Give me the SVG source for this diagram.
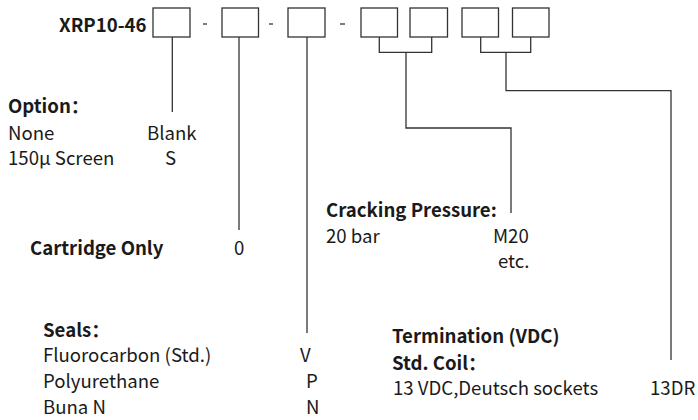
<svg xmlns="http://www.w3.org/2000/svg" width="698" height="420" viewBox="0 0 698 420">
<style>
text{font-family:"Noto Sans CJK SC","Noto Sans",sans-serif;font-size:18.6px;fill:#1a1a1a}
.b{font-weight:bold}
.box{fill:#fff;stroke:#333;stroke-width:1.3}
.ln{fill:none;stroke:#333;stroke-width:1.3}
</style>
<rect width="698" height="420" fill="#fff"/>
<g id="title"><text class="b" x="59" y="32">XRP10-46</text></g>
<g id="boxes">
<rect class="box" x="153" y="8" width="37" height="29"/>
<rect class="box" x="222" y="8" width="36.5" height="29"/>
<rect class="box" x="288" y="8" width="37" height="29"/>
<rect class="box" x="361" y="8" width="36.5" height="29"/>
<rect class="box" x="410" y="8" width="37.5" height="29"/>
<rect class="box" x="462" y="8" width="36.5" height="29"/>
<rect class="box" x="512.5" y="8" width="36.5" height="29"/>
<line class="ln" x1="203" y1="24" x2="207" y2="24"/>
<line class="ln" x1="269" y1="24" x2="273" y2="24"/>
<line class="ln" x1="340" y1="24" x2="345" y2="24"/>
</g>
<g id="connectors">
<polyline class="ln" points="172.3,37 172.3,112"/>
<polyline class="ln" points="239,37 239,230"/>
<polyline class="ln" points="307,37 307,333"/>
<polyline class="ln" points="379.3,37 379.3,52.3 431.7,52.3 431.7,37"/>
<polyline class="ln" points="406,52.3 406,128 511,128 511,213"/>
<polyline class="ln" points="480.7,37 480.7,52.3 530.7,52.3 530.7,37"/>
<polyline class="ln" points="506,52.3 506,90.7 671,90.7 671,360"/>
</g>
<g id="option">
<text class="b" x="8" y="113">Option：</text>
<text x="8" y="140">None</text>
<text x="147" y="140">Blank</text>
<text x="8" y="165">150µ Screen</text>
<text x="165" y="165">S</text>
</g>
<g id="cartridge">
<text class="b" x="30" y="255">Cartridge Only</text>
<text x="234" y="255">0</text>
</g>
<g id="cracking">
<text class="b" x="326" y="217">Cracking Pressure:</text>
<text x="326" y="243">20 bar</text>
<text x="493" y="243">M20</text>
<text x="498" y="268">etc.</text>
</g>
<g id="seals">
<text class="b" x="43" y="337">Seals：</text>
<text x="43" y="362">Fluorocarbon (Std.)</text>
<text x="300" y="362">V</text>
<text x="43" y="388">Polyurethane</text>
<text x="306" y="388">P</text>
<text x="43" y="414">Buna N</text>
<text x="306" y="414">N</text>
</g>
<g id="termination">
<text class="b" x="392" y="343">Termination (VDC)</text>
<text class="b" x="392" y="370">Std. Coil：</text>
<text x="393" y="395">13 VDC,Deutsch sockets</text>
<text x="650" y="395">13DR</text>
</g>
</svg>
